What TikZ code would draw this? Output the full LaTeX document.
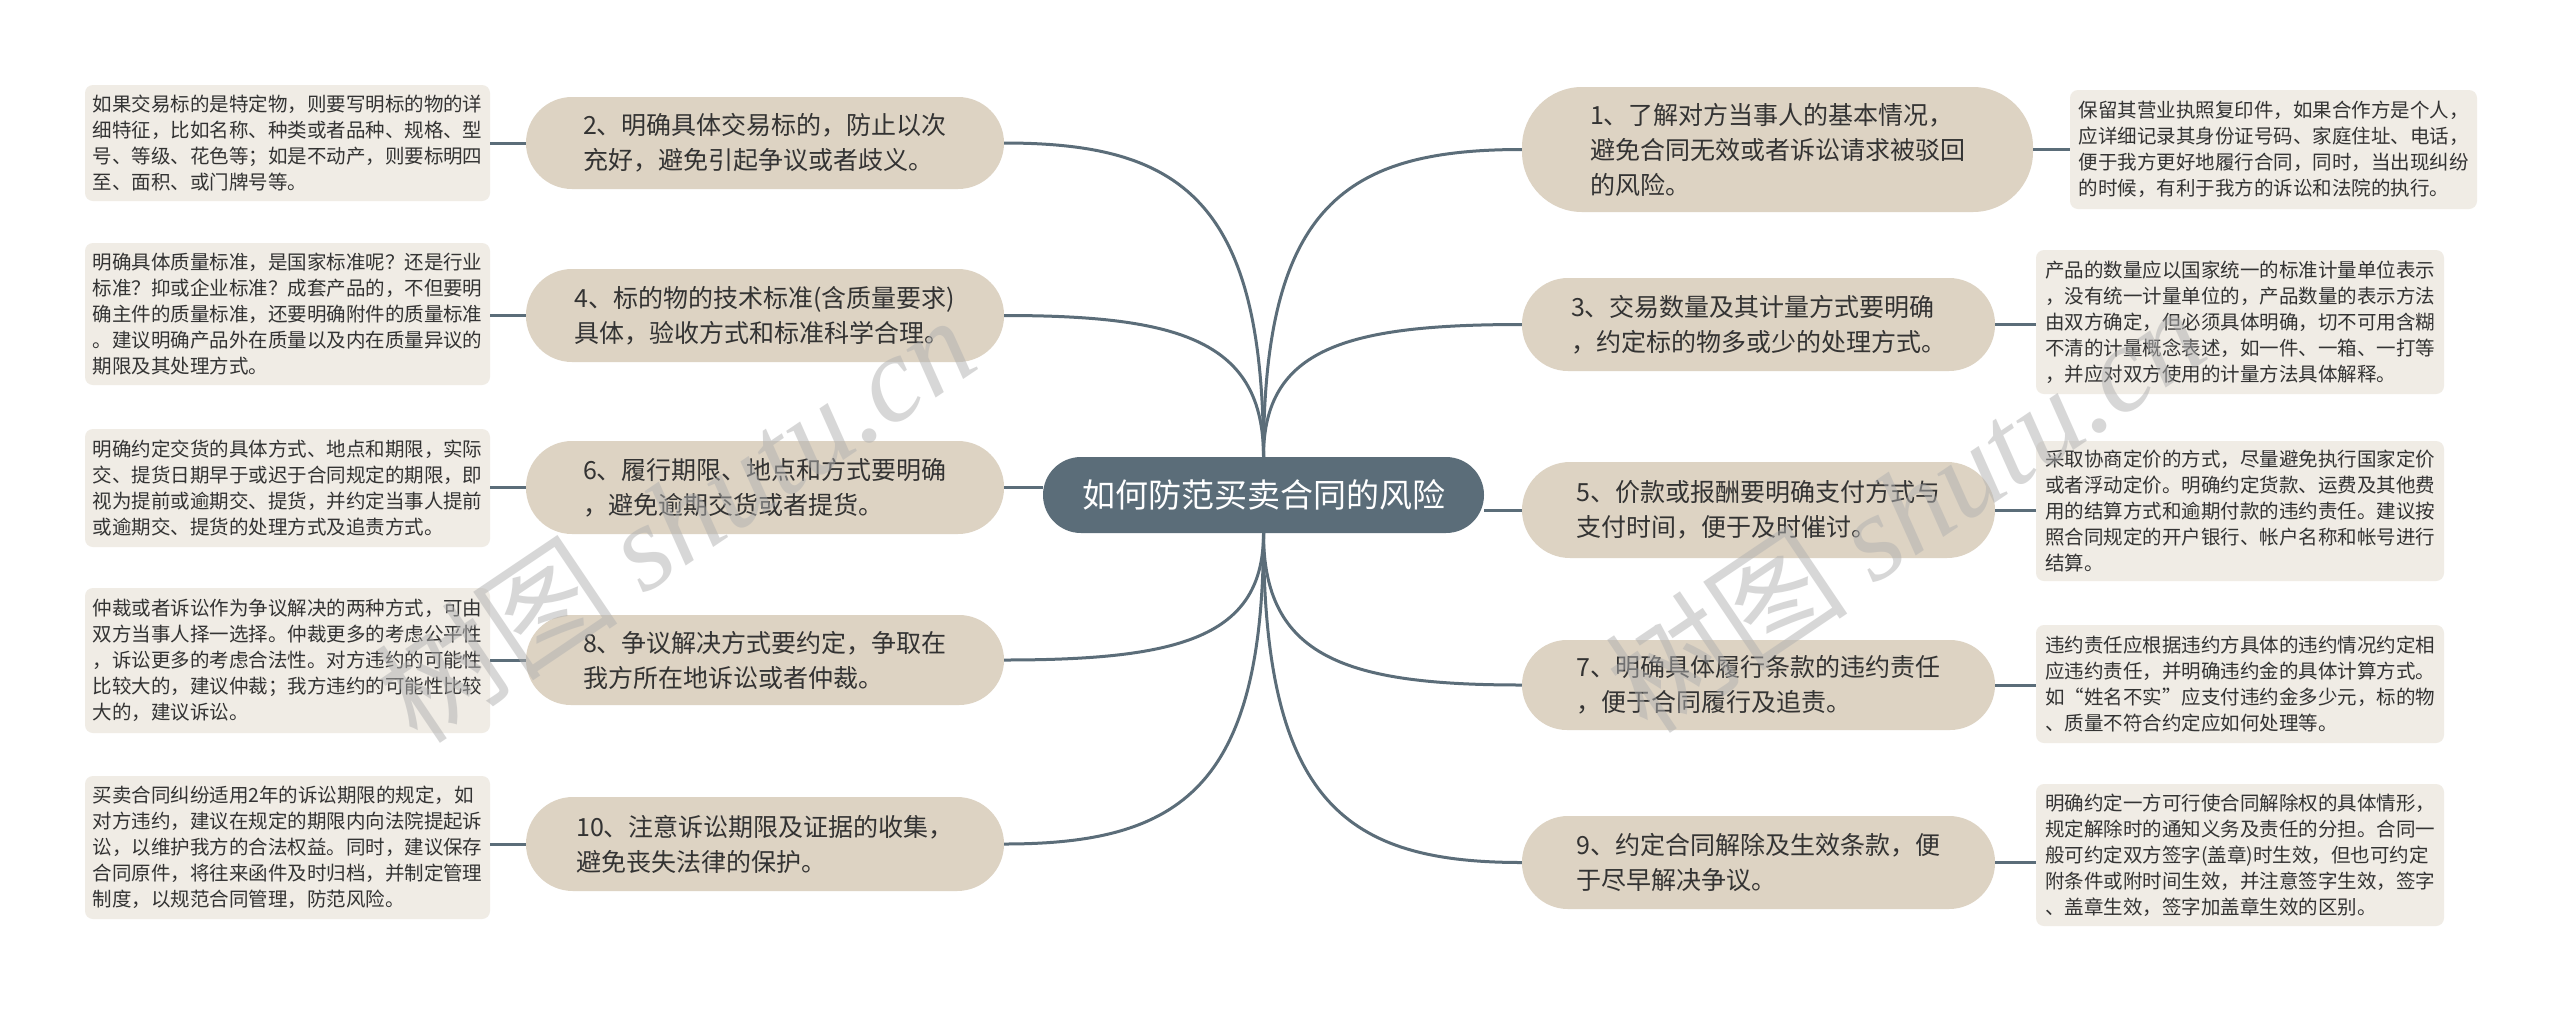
\documentclass[tikz,border=0pt]{standalone}
\usepackage{fontspec}
\setmainfont{Noto Sans CJK SC}
\newfontfamily\wmlatin{Liberation Serif}
\usetikzlibrary{calc}
\definecolor{linec}{HTML}{5B6D79}
\definecolor{branchfill}{HTML}{DDD3C3}
\definecolor{detailfill}{HTML}{F0ECE5}
\definecolor{textc}{HTML}{333333}
\definecolor{wmc}{HTML}{B0B0B0}
\tikzset{
  branch/.style={fill=branchfill, text=textc, align=left, inner sep=0pt,
    font=\fontsize{25}{35}\selectfont},
  detail/.style={fill=detailfill, text=textc, align=left, inner sep=0pt,
    rounded corners=8pt, font=\fontsize{19.5}{26}\selectfont},
  centre/.style={fill=linec, text=white, inner sep=0pt,
    font=\fontsize{33}{40}\selectfont},
  conn/.style={draw=linec, line width=3pt},
  wm/.style={text=wmc, opacity=0.5, rotate=34, inner sep=0pt,
    font=\fontsize{122}{130}\selectfont}
}
\newcommand{\curveto}[2]{%
  \draw[conn] (#1) .. controls ($(#1)!0.82!(#1|-#2)$) and ($(#2)!0.68!(#1|-#2)$) .. (#2);}
\begin{document}
\begin{tikzpicture}[x=1pt,y=-1pt]
\useasboundingbox (0,0) rectangle (2560,1013);
\fill[white] (0,0) rectangle (2560,1013);

% centre
\node[centre, minimum width=441pt, minimum height=76pt, rounded corners=38pt] (C) at (1263.5,495) {如何防范买卖合同的风险};

% left branches
\node[branch, minimum width=478pt, minimum height=92pt, rounded corners=46pt] (N2) at (765,143)
  {2、明确具体交易标的，防止以次\\充好，避免引起争议或者歧义。};
\node[branch, minimum width=478pt, minimum height=93pt, rounded corners=46pt] (N4) at (765,315.5)
  {4、标的物的技术标准(含质量要求)\\具体，验收方式和标准科学合理。};
\node[branch, minimum width=478pt, minimum height=93pt, rounded corners=46pt] (N6) at (765,487.5)
  {6、履行期限、地点和方式要明确\\，避免逾期交货或者提货。};
\node[branch, minimum width=478pt, minimum height=90pt, rounded corners=45pt] (N8) at (765,660)
  {8、争议解决方式要约定，争取在\\我方所在地诉讼或者仲裁。};
\node[branch, minimum width=478pt, minimum height=94pt, rounded corners=47pt] (N10) at (765,844)
  {10、注意诉讼期限及证据的收集，\\避免丧失法律的保护。};

% right branches
\node[branch, minimum width=511pt, minimum height=125pt, rounded corners=60pt] (N1) at (1777.5,149.5)
  {1、了解对方当事人的基本情况，\\避免合同无效或者诉讼请求被驳回\\的风险。};
\node[branch, minimum width=473pt, minimum height=93pt, rounded corners=46pt] (N3) at (1758.5,324.5)
  {3、交易数量及其计量方式要明确\\，约定标的物多或少的处理方式。};
\node[branch, minimum width=473pt, minimum height=96pt, rounded corners=48pt] (N5) at (1758.5,510)
  {5、价款或报酬要明确支付方式与\\支付时间，便于及时催讨。};
\node[branch, minimum width=473pt, minimum height=90pt, rounded corners=45pt] (N7) at (1758.5,685)
  {7、明确具体履行条款的违约责任\\，便于合同履行及追责。};
\node[branch, minimum width=473pt, minimum height=93pt, rounded corners=46pt] (N9) at (1758.5,862.5)
  {9、约定合同解除及生效条款，便\\于尽早解决争议。};

% left details
\node[detail, minimum width=405pt, minimum height=116pt] (D2) at (287.5,143)
  {如果交易标的是特定物，则要写明标的物的详\\细特征，比如名称、种类或者品种、规格、型\\号、等级、花色等；如是不动产，则要标明四\\至、面积、或门牌号等。};
\node[detail, minimum width=405pt, minimum height=142pt] (D4) at (287.5,314)
  {明确具体质量标准，是国家标准呢？还是行业\\标准？抑或企业标准？成套产品的，不但要明\\确主件的质量标准，还要明确附件的质量标准\\。建议明确产品外在质量以及内在质量异议的\\期限及其处理方式。};
\node[detail, minimum width=405pt, minimum height=118pt] (D6) at (287.5,488)
  {明确约定交货的具体方式、地点和期限，实际\\交、提货日期早于或迟于合同规定的期限，即\\视为提前或逾期交、提货，并约定当事人提前\\或逾期交、提货的处理方式及追责方式。};
\node[detail, minimum width=405pt, minimum height=145pt] (D8) at (287.5,660.5)
  {仲裁或者诉讼作为争议解决的两种方式，可由\\双方当事人择一选择。仲裁更多的考虑公平性\\，诉讼更多的考虑合法性。对方违约的可能性\\比较大的，建议仲裁；我方违约的可能性比较\\大的，建议诉讼。};
\node[detail, minimum width=405pt, minimum height=143pt] (D10) at (287.5,847.5)
  {买卖合同纠纷适用2年的诉讼期限的规定，如\\对方违约，建议在规定的期限内向法院提起诉\\讼，以维护我方的合法权益。同时，建议保存\\合同原件，将往来函件及时归档，并制定管理\\制度，以规范合同管理，防范风险。};

% right details
\node[detail, minimum width=407pt, minimum height=119pt] (D1) at (2273.5,149.5)
  {保留其营业执照复印件，如果合作方是个人，\\应详细记录其身份证号码、家庭住址、电话，\\便于我方更好地履行合同，同时，当出现纠纷\\的时候，有利于我方的诉讼和法院的执行。};
\node[detail, minimum width=408pt, minimum height=144pt] (D3) at (2240,322)
  {产品的数量应以国家统一的标准计量单位表示\\，没有统一计量单位的，产品数量的表示方法\\由双方确定，但必须具体明确，切不可用含糊\\不清的计量概念表述，如一件、一箱、一打等\\，并应对双方使用的计量方法具体解释。};
\node[detail, minimum width=408pt, minimum height=140pt] (D5) at (2240,511)
  {采取协商定价的方式，尽量避免执行国家定价\\或者浮动定价。明确约定货款、运费及其他费\\用的结算方式和逾期付款的违约责任。建议按\\照合同规定的开户银行、帐户名称和帐号进行\\结算。};
\node[detail, minimum width=408pt, minimum height=118pt] (D7) at (2240,684)
  {违约责任应根据违约方具体的违约情况约定相\\应违约责任，并明确违约金的具体计算方式。\\如“姓名不实”应支付违约金多少元，标的物\\、质量不符合约定应如何处理等。};
\node[detail, minimum width=408pt, minimum height=142pt] (D9) at (2240,855)
  {明确约定一方可行使合同解除权的具体情形，\\规定解除时的通知义务及责任的分担。合同一\\般可约定双方签字(盖章)时生效，但也可约定\\附条件或附时间生效，并注意签字生效，签字\\、盖章生效，签字加盖章生效的区别。};

% connectors centre -> branches
\curveto{C.north}{N2.east}
\curveto{C.north}{N4.east}
\curveto{C.north}{N1.west}
\curveto{C.north}{N3.west}
\curveto{C.south}{N8.east}
\curveto{C.south}{N10.east}
\curveto{C.south}{N7.west}
\curveto{C.south}{N9.west}
\draw[conn] (N6.east) -- (N6.east -| C.west);
\draw[conn] (N5.west) -- (N5.west -| C.east);

% connectors branches -> details
\foreach \n in {2,4,6,8,10} {\draw[conn] (N\n.west) -- (N\n.west -| D\n.east);}
\foreach \n in {1,3,5,7,9} {\draw[conn] (N\n.east) -- (N\n.east -| D\n.west);}

% watermark
\node[wm] (W1) at (675,518) {树图 {\wmlatin\itshape shutu.cn}};
\node[wm] (W2) at (1905,508) {树图 {\wmlatin\itshape shutu.cn}};
\end{tikzpicture}
\end{document}
